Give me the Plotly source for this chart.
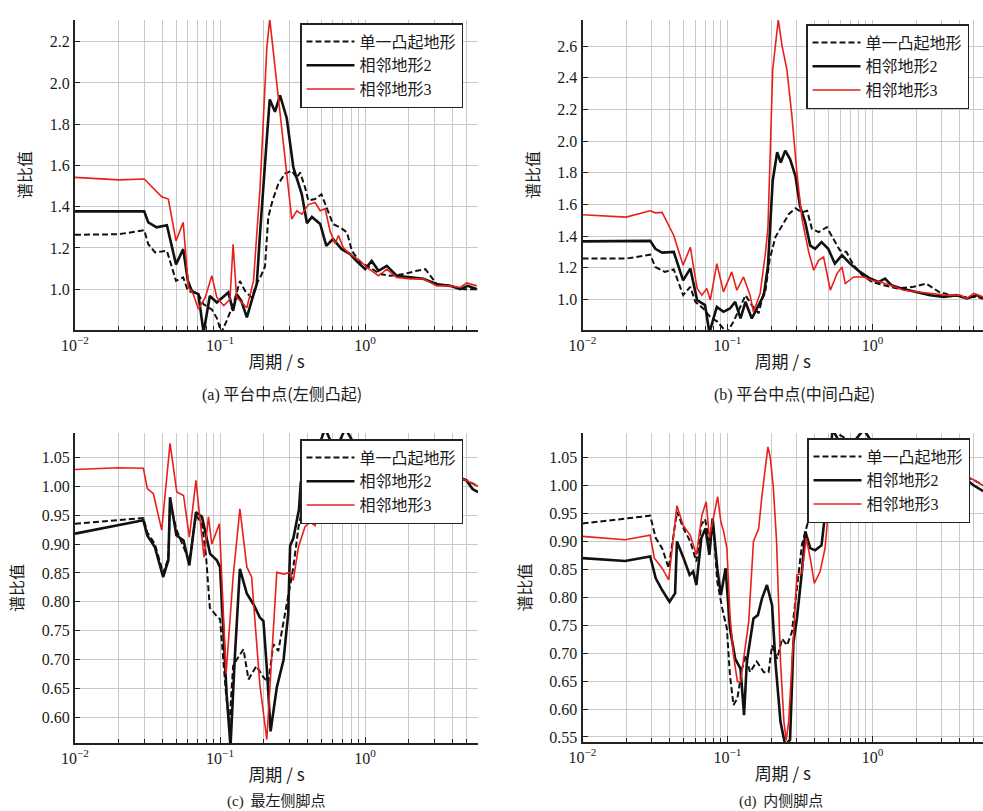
import plotly.graph_objects as go

# ---------------- data (period [s], spectral ratio) ----------------
SERIES_NAMES = ["单一凸起地形", "相邻地形2", "相邻地形3"]
PANEL_TAGS = ["(a)", "(b)", "(c)", "(d)"]
PANEL_TITLES = ["平台中点(左侧凸起)", "平台中点(中间凸起)", "最左侧脚点", "内侧脚点"]
X_TICK_VALS = [0.01, 0.1, 1]
X_TICK_TEXT = ["10<sup>−2</sup>", "10<sup>−1</sup>", "10<sup>0</sup>"]
X_MINOR_VALS = [0.02, 0.03, 0.04, 0.05, 0.06, 0.07, 0.08, 0.09,
                0.2, 0.3, 0.4, 0.5, 0.6, 0.7, 0.8, 0.9, 2, 3, 4, 5, 6]

a_single = [(0.01,1.264),(0.02,1.266),(0.03,1.286),(0.032,1.218),(0.0356,1.178),(0.043,1.186),
            (0.0497,1.04),(0.0557,1.057),(0.06,0.992),(0.0708,0.976),(0.077,0.927),(0.088,0.90),
            (0.095,0.86),(0.102,0.79),(0.111,0.846),(0.124,0.93),(0.137,1.04),(0.149,0.99),
            (0.165,0.96),(0.18,1.03),(0.19,1.06),(0.204,1.11),(0.215,1.35),(0.23,1.43),(0.252,1.51),
            (0.28,1.56),(0.312,1.574),(0.338,1.54),(0.356,1.566),(0.385,1.494),(0.406,1.43),
            (0.452,1.437),(0.5,1.46),(0.54,1.397),(0.6,1.316),(0.67,1.30),(0.75,1.275),(0.81,1.186),
            (0.924,1.13),(1.08,1.105),(1.27,1.073),(1.5,1.065),(1.84,1.073),(2.27,1.089),(2.6,1.097),
            (3.12,1.024),(3.86,1.016),(4.8,1.0),(5.9,1.0)]
a_adj2 = [(0.01,1.377),(0.03,1.377),(0.032,1.324),(0.0365,1.30),(0.043,1.31),(0.0497,1.12),
          (0.0557,1.194),(0.06,1.04),(0.064,0.99),(0.0708,0.976),(0.077,0.79),(0.085,0.967),
          (0.095,0.935),(0.105,0.96),(0.114,0.984),(0.123,0.895),(0.13,0.976),(0.14,0.943),
          (0.153,0.863),(0.165,0.943),(0.179,1.024),(0.189,1.28),(0.203,1.62),(0.21,1.73),
          (0.22,1.92),(0.239,1.86),(0.259,1.94),(0.288,1.83),(0.32,1.59),(0.338,1.54),(0.366,1.46),
          (0.397,1.32),(0.43,1.35),(0.49,1.316),(0.54,1.21),(0.60,1.243),(0.69,1.194),(0.788,1.17),
          (0.87,1.137),(1.0,1.097),(1.11,1.137),(1.236,1.089),(1.41,1.113),(1.65,1.065),(2.04,1.057),
          (2.52,1.05),(3.12,1.024),(3.86,1.016),(4.52,1.0),(5.1,1.016),(5.9,1.0)]
a_adj3 = [(0.01,1.542),(0.02,1.53),(0.03,1.534),(0.0396,1.448),(0.044,1.437),(0.0497,1.234),
          (0.0557,1.324),(0.0605,1.01),(0.065,0.98),(0.071,0.903),(0.079,0.96),(0.0877,1.065),
          (0.095,0.96),(0.106,0.92),(0.117,0.95),(0.123,1.218),(0.13,0.96),(0.153,0.91),(0.17,1.04),
          (0.189,1.50),(0.21,2.17),(0.22,2.31),(0.252,1.93),(0.288,1.56),(0.312,1.34),(0.338,1.38),
          (0.366,1.364),(0.406,1.41),(0.452,1.42),(0.49,1.38),(0.53,1.39),(0.574,1.28),(0.621,1.22),
          (0.655,1.26),(0.708,1.20),(0.788,1.17),(0.924,1.137),(1.028,1.105),(1.236,1.065),
          (1.41,1.097),(1.65,1.057),(2.04,1.05),(2.52,1.05),(3.12,1.016),(3.86,1.016),(4.52,1.008),
          (5.02,1.03),(5.89,1.016)]

b_single = [(0.01,1.258),(0.02,1.258),(0.0293,1.283),(0.0318,1.205),(0.037,1.174),(0.0426,1.19),
            (0.0494,1.027),(0.0554,1.08),(0.06,0.985),(0.068,0.943),(0.076,0.89),(0.085,0.86),
            (0.099,0.79),(0.11,0.86),(0.122,0.95),(0.133,1.027),(0.147,0.964),(0.164,0.912),
            (0.178,1.048),(0.183,1.06),(0.195,1.25),(0.214,1.394),(0.231,1.446),(0.265,1.54),
            (0.294,1.576),(0.326,1.55),(0.354,1.56),(0.382,1.446),(0.425,1.425),(0.484,1.457),
            (0.536,1.384),(0.596,1.31),(0.66,1.30),(0.741,1.216),(0.85,1.153),(0.993,1.11),(1.2,1.09),
            (1.48,1.069),(1.92,1.08),(2.35,1.10),(2.87,1.048),(3.44,1.027),(4.25,1.016),(5.25,1.016),
            (5.8,1.006)]
b_adj2 = [(0.01,1.367),(0.0293,1.37),(0.0318,1.32),(0.0354,1.296),(0.0426,1.30),(0.0494,1.12),
          (0.0554,1.195),(0.0617,0.996),(0.07,0.964),(0.075,0.79),(0.0844,0.953),(0.0938,0.922),
          (0.104,0.943),(0.113,0.985),(0.123,0.88),(0.133,0.985),(0.147,0.88),(0.164,0.964),
          (0.178,1.027),(0.19,1.21),(0.205,1.75),(0.22,1.93),(0.233,1.865),(0.25,1.94),(0.27,1.887),
          (0.294,1.78),(0.316,1.59),(0.343,1.49),(0.372,1.34),(0.402,1.32),(0.445,1.362),(0.495,1.32),
          (0.55,1.226),(0.616,1.28),(0.70,1.226),(0.82,1.174),(0.963,1.132),(1.1,1.11),(1.22,1.132),
          (1.35,1.09),(1.58,1.069),(1.97,1.048),(2.5,1.027),(3.1,1.016),(3.8,1.027),(4.48,1.006),
          (5.25,1.027),(5.8,1.006)]
b_adj3 = [(0.01,1.535),(0.02,1.52),(0.0293,1.56),(0.0318,1.547),(0.0354,1.55),(0.0426,1.404),
          (0.0494,1.216),(0.0554,1.33),(0.0617,1.07),(0.0666,1.027),(0.072,1.07),(0.0761,0.996),
          (0.0844,1.226),(0.0938,1.048),(0.107,1.174),(0.116,1.058),(0.129,1.142),(0.143,1.027),
          (0.151,0.922),(0.168,1.038),(0.183,1.30),(0.19,1.45),(0.205,2.45),(0.218,2.70),
          (0.224,2.767),(0.238,2.60),(0.257,2.45),(0.278,2.16),(0.301,1.80),(0.326,1.51),(0.363,1.30),
          (0.393,1.184),(0.425,1.247),(0.46,1.268),(0.512,1.058),(0.569,1.163),(0.616,1.205),
          (0.649,1.10),(0.741,1.142),(0.869,1.142),(0.993,1.12),(1.13,1.11),(1.33,1.09),(1.64,1.058),
          (2.03,1.048),(2.64,1.038),(3.26,1.027),(4.03,1.027),(4.48,1.006),(4.99,1.038),(5.8,1.016)]

c_single = [(0.01,0.935),(0.0296,0.945),(0.0315,0.92),(0.0355,0.90),(0.0405,0.85),(0.044,0.875),
            (0.0452,0.97),(0.05,0.925),(0.056,0.895),(0.0614,0.87),(0.0682,0.95),(0.075,0.935),
            (0.08,0.88),(0.085,0.79),(0.095,0.775),(0.1,0.77),(0.11,0.64),(0.116,0.588),(0.123,0.689),
            (0.13,0.70),(0.145,0.718),(0.157,0.666),(0.178,0.689),(0.199,0.67),(0.215,0.66),
            (0.233,0.727),(0.252,0.715),(0.295,0.808),(0.32,0.86),(0.347,0.929),(0.375,0.97),
            (0.42,1.02),(0.5,1.06),(0.6,1.08),(0.8,1.07),(1.2,1.05),(2.0,1.04),(3.0,1.03),(4.0,1.02),
            (5.0,1.01),(6.0,1.0)]
c_adj2 = [(0.01,0.918),(0.0296,0.941),(0.0315,0.915),(0.0355,0.895),(0.0405,0.843),(0.044,0.872),
          (0.0452,0.981),(0.05,0.915),(0.056,0.906),(0.0614,0.863),(0.0682,0.955),(0.075,0.947),
          (0.0854,0.883),(0.095,0.872),(0.1,0.86),(0.111,0.64),(0.118,0.55),(0.126,0.698),
          (0.137,0.857),(0.153,0.814),(0.17,0.796),(0.188,0.773),(0.199,0.767),(0.21,0.686),
          (0.223,0.576),(0.246,0.652),(0.274,0.70),(0.295,0.78),(0.304,0.897),(0.32,0.91),
          (0.35,0.96),(0.36,1.007),(0.39,1.03),(0.45,1.05),(0.53,1.10),(0.62,1.06),(0.73,1.10),
          (0.9,1.06),(1.2,1.05),(2.0,1.04),(3.0,1.03),(4.0,1.02),(5.0,1.01),(5.5,0.995),(6.0,0.99)]
c_adj3 = [(0.01,1.029),(0.02,1.032),(0.0296,1.031),(0.0315,0.996),(0.0347,0.987),(0.0396,0.924),
          (0.0452,1.074),(0.0503,0.99),(0.056,0.984),(0.0614,0.912),(0.0682,1.01),(0.0775,0.877),
          (0.0832,0.947),(0.0877,0.90),(0.0924,0.915),(0.0989,0.935),(0.11,0.675),(0.123,0.843),
          (0.137,0.961),(0.153,0.86),(0.165,0.843),(0.188,0.657),(0.21,0.562),(0.246,0.851),
          (0.274,0.848),(0.304,0.851),(0.32,0.837),(0.347,0.895),(0.385,0.93),(0.417,0.938),
          (0.452,0.932),(0.49,1.0),(0.55,1.04),(0.7,1.05),(1.0,1.04),(2.0,1.03),(3.0,1.02),
          (4.0,1.02),(5.0,1.01),(6.0,1.0)]

d_single = [(0.01,0.932),(0.0293,0.946),(0.032,0.906),(0.0354,0.888),(0.0393,0.852),(0.0448,0.953),
            (0.0498,0.923),(0.0554,0.90),(0.061,0.864),(0.066,0.93),(0.07,0.94),(0.075,0.90),
            (0.08,0.925),(0.085,0.828),(0.092,0.78),(0.099,0.744),(0.104,0.66),(0.11,0.607),
            (0.117,0.619),(0.126,0.672),(0.133,0.696),(0.143,0.666),(0.159,0.685),(0.178,0.666),
            (0.192,0.666),(0.203,0.714),(0.22,0.69),(0.238,0.726),(0.257,0.714),(0.278,0.738),
            (0.301,0.816),(0.326,0.894),(0.354,0.929),(0.382,0.959),(0.42,1.0),(0.5,1.05),(0.6,1.09),
            (0.8,1.07),(1.2,1.05),(2.0,1.04),(3.0,1.03),(4.0,1.02),(5.0,1.01),(5.8,1.0)]
d_adj2 = [(0.01,0.87),(0.0197,0.865),(0.0293,0.873),(0.032,0.834),(0.0354,0.813),(0.0398,0.792),
          (0.0435,0.807),(0.0448,0.90),(0.0498,0.87),(0.0548,0.84),(0.058,0.846),(0.061,0.822),
          (0.066,0.906),(0.0705,0.923),(0.075,0.876),(0.079,0.941),(0.085,0.852),(0.09,0.804),
          (0.097,0.852),(0.104,0.744),(0.113,0.69),(0.123,0.672),(0.13,0.589),(0.136,0.685),
          (0.151,0.762),(0.162,0.768),(0.173,0.798),(0.187,0.822),(0.203,0.786),(0.214,0.685),
          (0.232,0.577),(0.25,0.535),(0.27,0.545),(0.285,0.72),(0.301,0.762),(0.326,0.846),
          (0.344,0.918),(0.372,0.888),(0.402,0.884),(0.445,0.893),(0.47,0.947),(0.5,1.02),(0.53,1.10),
          (0.65,1.06),(0.87,1.10),(1.1,1.06),(1.5,1.05),(2.5,1.03),(4.0,1.02),(5.0,1.0),(5.8,0.99)]
d_adj3 = [(0.01,0.909),(0.0197,0.903),(0.0293,0.911),(0.0313,0.87),(0.0354,0.852),(0.0393,0.831),
          (0.0448,0.964),(0.0494,0.929),(0.0554,0.911),(0.061,0.876),(0.0666,0.947),(0.0713,0.971),
          (0.075,0.906),(0.0801,0.941),(0.0855,0.98),(0.09,0.935),(0.094,0.918),(0.099,0.888),
          (0.104,0.768),(0.11,0.696),(0.117,0.649),(0.123,0.649),(0.133,0.714),(0.14,0.756),
          (0.151,0.90),(0.164,0.923),(0.173,0.983),(0.19,1.069),(0.197,1.051),(0.207,0.997),
          (0.218,0.90),(0.232,0.685),(0.245,0.577),(0.254,0.544),(0.264,0.577),(0.285,0.744),
          (0.301,0.84),(0.326,0.843),(0.349,0.906),(0.372,0.87),(0.397,0.825),(0.435,0.846),
          (0.471,0.888),(0.495,0.953),(0.53,1.02),(0.6,1.06),(0.8,1.08),(1.2,1.07),(2.0,1.05),
          (3.0,1.03),(4.0,1.02),(5.0,1.01),(5.8,1.0)]

PANELS = [
    dict(series=[a_single, a_adj2, a_adj3], yrange=[0.802, 2.305], tick0=1.0, dtick=0.2, fmt=".1f"),
    dict(series=[b_single, b_adj2, b_adj3], yrange=[0.807, 2.765], tick0=1.0, dtick=0.2, fmt=".1f"),
    dict(series=[c_single, c_adj2, c_adj3], yrange=[0.556, 1.092], tick0=0.55, dtick=0.05, fmt=".2f"),
    dict(series=[d_single, d_adj2, d_adj3], yrange=[0.541, 1.094], tick0=0.55, dtick=0.05, fmt=".2f"),
]

# ---------------- layout geometry (pixels) ----------------
W, H = 983, 811
BOXES = [  # left, right, top, bottom
    (75, 478, 20, 330),
    (582.5, 983, 20, 330),
    (75, 478, 433, 743),
    (582.5, 983, 433, 742),
]
XRANGES = [[-2, 0.778], [-2, 0.762], [-2, 0.778], [-2, 0.762]]
LEGEND_POS = [(300, 23), (806, 24), (300, 439), (807, 438)]
TITLE_POS = [(282, 393), (794, 393), (276, 799), (781, 799)]
TITLE_SIZE = [16, 16, 15, 15]
TAG_GAP = ["", "", "&nbsp;", "&nbsp;"]

STYLES = [
    dict(color="#111111", width=2.0, dash="6px,3px"),
    dict(color="#111111", width=2.6, dash="solid"),
    dict(color="#e8201c", width=1.6, dash="solid"),
]

FONT = "'Liberation Serif', 'Noto Sans CJK SC', serif"
CJK = "'Noto Sans CJK SC', sans-serif"
GRID = "#c9c9c9"

fig = go.Figure()
layout = dict(width=W, height=H, autosize=False, margin=dict(l=0, r=0, t=0, b=0, autoexpand=False),
              paper_bgcolor="white", plot_bgcolor="white",
              font=dict(family=FONT, size=15, color="#1a1a1a"), annotations=[])

for i, panel in enumerate(PANELS):
    k = "" if i == 0 else str(i + 1)
    leg = "legend" if i == 0 else f"legend{i + 1}"
    for name, data, st in zip(SERIES_NAMES, panel["series"], STYLES):
        xs, ys = zip(*data)
        fig.add_trace(go.Scatter(x=list(xs), y=list(ys), mode="lines", name=name,
                                 line=dict(color=st["color"], width=st["width"], dash=st["dash"]),
                                 xaxis="x" + k, yaxis="y" + k, legend=leg))
    l, r, t, b = BOXES[i]
    layout["xaxis" + k] = dict(
        type="log", range=XRANGES[i], domain=[l / W, min(r / W, 1.0)], anchor="y" + k,
        automargin=False,
        tickmode="array", tickvals=X_TICK_VALS, ticktext=X_TICK_TEXT,
        ticks="inside", ticklen=6, tickwidth=1.2, tickcolor="#222",
        showline=True, linewidth=2, linecolor="#222", mirror=False,
        showgrid=True, gridcolor=GRID, gridwidth=1, zeroline=False,
        tickfont=dict(family=FONT, size=16),
        minor=dict(tickmode="array", tickvals=X_MINOR_VALS, ticks="inside", ticklen=4,
                   tickcolor="#222", showgrid=True, gridcolor=GRID, gridwidth=1),
        title=dict(text="周期 / s", font=dict(family=CJK, size=17), standoff=3),
    )
    layout["yaxis" + k] = dict(
        range=panel["yrange"], domain=[1 - b / H, 1 - t / H], anchor="x" + k,
        automargin=False,
        tick0=panel["tick0"], dtick=panel["dtick"], tickformat=panel["fmt"],
        ticks="inside", ticklen=5, tickwidth=1.2, tickcolor="#222",
        showline=True, linewidth=2, linecolor="#222", mirror=False,
        showgrid=True, gridcolor=GRID, gridwidth=1, zeroline=False,
        tickfont=dict(family=FONT, size=16),
        title=dict(text="谱比值", font=dict(family=CJK, size=16), standoff=14),
    )
    lx, ly = LEGEND_POS[i]
    layout[leg] = dict(x=lx / W, y=1 - ly / H, xanchor="left", yanchor="top",
                       bgcolor="white", bordercolor="#222", borderwidth=1.5,
                       font=dict(family=FONT, size=16), tracegroupgap=0,
                       itemwidth=48)
    tx, ty = TITLE_POS[i]
    text = ("<span style=\"font-family:'Liberation Serif', serif\">" + PANEL_TAGS[i] + "</span> "
            + TAG_GAP[i] + PANEL_TITLES[i])
    layout["annotations"].append(dict(text=text, x=tx / W, y=1 - ty / H,
                                      xref="paper", yref="paper", showarrow=False,
                                      xanchor="center", yanchor="middle",
                                      font=dict(family=CJK, size=TITLE_SIZE[i], color="#1a1a1a")))

fig.update_layout(**layout)
fig.write_html("out.html", config={"displayModeBar": False},
               post_script="document.body.style.margin='0';document.body.style.overflow='hidden';")
